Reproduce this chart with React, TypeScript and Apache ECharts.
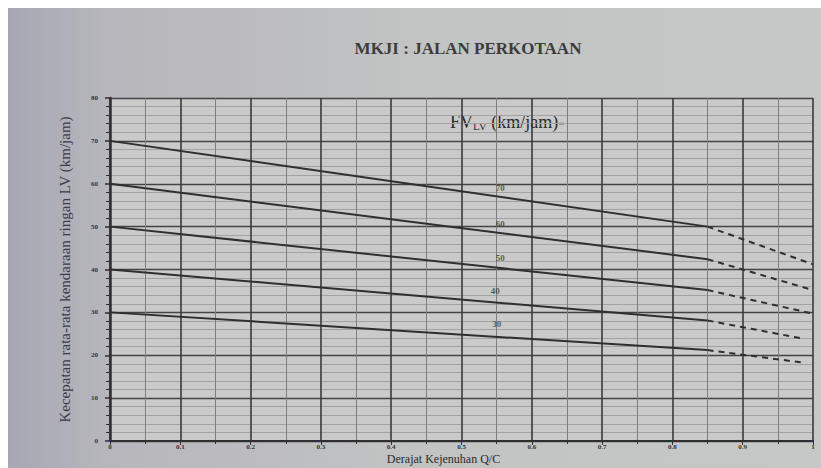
import React, { useEffect, useRef } from "react";
import * as echarts from "echarts";

// Free-flow speed curves FV_LV (km/jam)
const fvNames = ["70", "60", "50", "40", "30"];
const fvStart = [70, 60, 50, 40, 30]; // speed at DS = 0
const dsKnee = 0.85; // end of solid part
const speedAtKnee = [50, 42.4, 35.2, 28.1, 21.2];
const dsEnd = [1, 1, 1, 0.985, 0.985]; // end of dashed part
const speedAtEnd = [41.2, 35.2, 29.7, 23.9, 18.3];
// curve label positions
const labelDS = [0.555, 0.555, 0.555, 0.548, 0.55];
const labelSpeed = [59, 50.7, 42.6, 34.9, 27.3];

const xMin = 0;
const xMax = 1;
const xStep = 0.1;
const yMin = 0;
const yMax = 80;
const yStep = 10;

const titleText = "MKJI : JALAN PERKOTAAN";
const xName = "Derajat Kejenuhan Q/C";
const yName = "Kecepatan rata-rata kendaraan ringan LV (km/jam)";

export default function App() {
  const ref = useRef<HTMLDivElement>(null);
  useEffect(() => {
    if (!ref.current) return;
    const chart = echarts.init(ref.current, null, { renderer: "svg" });
    const ink = "#2f2f2f";
    const series: any[] = [];
    fvNames.forEach((n, i) => {
      series.push({
        type: "line",
        name: "FV " + n,
        data: [
          [0, fvStart[i]],
          [dsKnee, speedAtKnee[i]],
        ],
        symbol: "none",
        lineStyle: { color: ink, width: 2 },
        z: 5,
      });
      series.push({
        type: "line",
        name: "FV " + n + " (dashed)",
        data: [
          [dsKnee, speedAtKnee[i]],
          [dsEnd[i], speedAtEnd[i]],
        ],
        symbol: "none",
        lineStyle: { color: ink, width: 2, type: [6, 5] },
        z: 5,
      });
    });
    series.push({
      type: "scatter",
      name: "labels",
      data: fvNames.map((n, i) => ({ value: [labelDS[i], labelSpeed[i]], name: n })),
      symbolSize: 1,
      itemStyle: { color: "rgba(0,0,0,0)" },
      label: {
        show: true,
        position: "inside",
        formatter: (p: any) => p.name,
        fontSize: 9,
        fontWeight: "bold",
        fontFamily: "Liberation Serif",
        color: "#3a3a3a",
      },
      z: 6,
    });

    chart.setOption({
      animation: false,
      backgroundColor: {
        type: "linear",
        x: 0,
        y: 0,
        x2: 1,
        y2: 0,
        colorStops: [
          { offset: 0, color: "#a7a7b3" },
          { offset: 0.12, color: "#b6b6bc" },
          { offset: 0.5, color: "#c2c3c3" },
          { offset: 1, color: "#c6c7c7" },
        ],
      },
      grid: {
        left: 102,
        right: 8,
        top: 90,
        bottom: 27,
        show: true,
        backgroundColor: "#cacaca",
        borderWidth: 0,
        outerBoundsMode: "none",
        containLabel: false,
      },
      graphic: [
        {
          type: "text",
          x: 460,
          y: 40,
          style: {
            text: titleText,
            textAlign: "center",
            textVerticalAlign: "middle",
            fontFamily: "Liberation Serif",
            fontWeight: "bold",
            fontSize: 17,
            fill: "#3c3c3c",
          },
        },
        {
          type: "text",
          x: 442,
          y: 104,
          style: {
            text: "FV{sub|LV} (km/jam)-",
            fontFamily: "Liberation Serif",
            fontSize: 18,
            fill: "#2a2a2a",
            rich: {
              sub: {
                fontFamily: "Liberation Serif",
                fontSize: 11,
                fill: "#2a2a2a",
                padding: [8, 0, 0, 0],
              },
            },
          },
        },
      ],
      xAxis: {
        type: "value",
        min: xMin,
        max: xMax,
        interval: xStep,
        name: xName,
        nameLocation: "middle",
        nameGap: 12,
        nameMoveOverlap: false,
        nameTextStyle: {
          fontFamily: "Liberation Serif",
          fontSize: 12,
          color: "#2a2a2a",
          padding: [0, 36, 0, 0],
        },
        axisLine: { show: true, lineStyle: { color: ink, width: 2 } },
        axisTick: { show: true, length: 4, lineStyle: { color: ink } },
        minorTick: { show: true, splitNumber: 2, length: 3, lineStyle: { color: ink } },
        axisLabel: {
          fontSize: 7,
          margin: 2,
          color: "#333",
          fontWeight: "bold",
          fontFamily: "Liberation Serif",
        },
        splitLine: { show: true, lineStyle: { color: "#3a3a3a", width: 1.6 } },
        minorSplitLine: { show: true, lineStyle: { color: "#7e7e7e", width: 1 } },
      },
      yAxis: {
        type: "value",
        min: yMin,
        max: yMax,
        interval: yStep,
        name: yName,
        nameLocation: "middle",
        nameGap: 38,
        nameTextStyle: {
          fontFamily: "Liberation Serif",
          fontSize: 15,
          color: "#3a3a4a",
        },
        axisLine: { show: true, lineStyle: { color: ink, width: 2.5 } },
        axisTick: { show: true, length: 5, lineStyle: { color: ink, width: 1.5 } },
        minorTick: { show: true, splitNumber: 5, length: 4, lineStyle: { color: ink } },
        axisLabel: {
          fontSize: 7,
          margin: 12,
          color: "#333",
          fontWeight: "bold",
          fontFamily: "Liberation Serif",
        },
        splitLine: { show: true, lineStyle: { color: "#444", width: 1.4 } },
        minorSplitLine: { show: true, lineStyle: { color: "#a2a2a2", width: 1 } },
      },
      series,
    });
    return () => chart.dispose();
  }, []);
  return (
    <div
      ref={ref}
      style={{ position: "absolute", left: 8, top: 8, width: 813, height: 460 }}
    />
  );
}
